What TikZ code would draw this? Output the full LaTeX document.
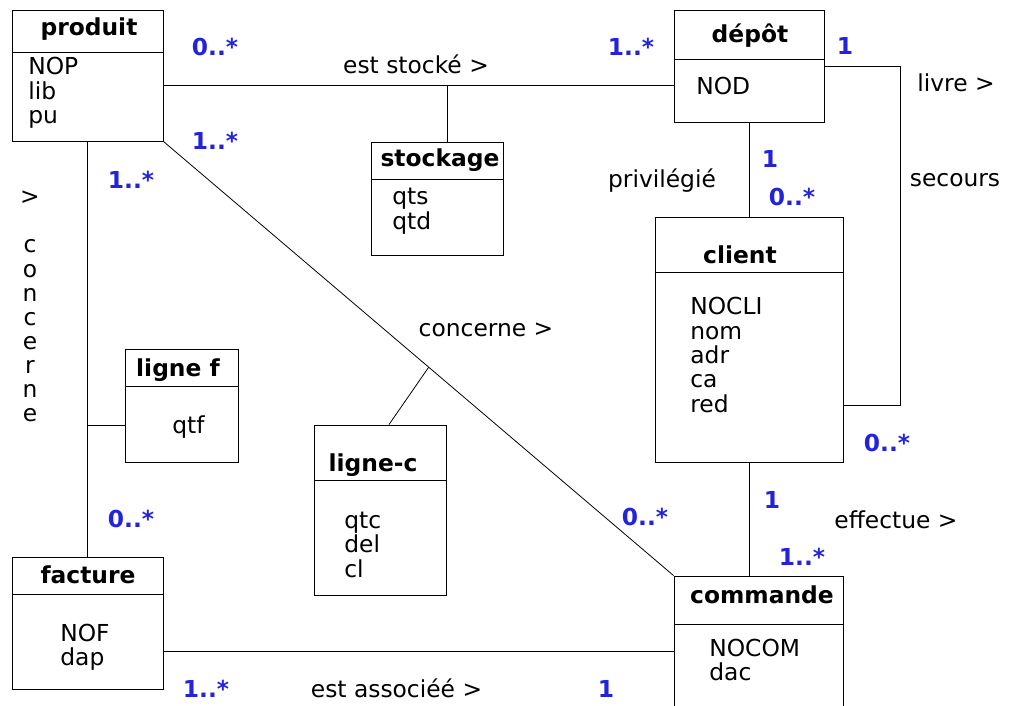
\documentclass[tikz,border=0pt]{standalone}
\usepackage{fontspec}
\setmainfont{DejaVu Sans}
\usetikzlibrary{calc}
\definecolor{bleu}{RGB}{35,35,220}
\tikzset{
  boite/.style={draw, line width=0.5pt, inner sep=0pt},
  titre/.style={font=\bfseries\fontsize{13.3}{14}\selectfont, anchor=base, inner sep=0pt},
  attr/.style={font=\fontsize{13.3}{14}\selectfont, anchor=base west, inner sep=0pt},
  lien/.style={font=\fontsize{13.3}{14}\selectfont, anchor=base, inner sep=0pt},
  card/.style={text=bleu, font=\bfseries\fontsize{13.3}{14}\selectfont, inner sep=0pt},
  trait/.style={line width=0.45pt}
}
\begin{document}
\begin{tikzpicture}[x=0.02cm, y=-0.02cm]
  \useasboundingbox (0,0) rectangle (1012,706);
  \clip (0,0) rectangle (1012,706);

  % Les classes
  \node[boite, minimum width=3.02cm, minimum height=2.62cm] (produit) at (87.5,75.5) {};
  \node[boite, minimum width=3.00cm, minimum height=2.24cm] (depot) at (749,66) {};
  \node[boite, minimum width=2.64cm, minimum height=2.26cm] (stockage) at (437,198.5) {};
  \node[boite, minimum width=3.76cm, minimum height=4.90cm] (client) at (749,339.5) {};
  \node[boite, minimum width=2.26cm, minimum height=2.26cm] (lignef) at (181.5,405.5) {};
  \node[boite, minimum width=2.64cm, minimum height=3.40cm] (lignec) at (380,510) {};
  \node[boite, minimum width=3.02cm, minimum height=2.64cm] (facture) at (87.5,623) {};
  \node[boite, minimum width=3.38cm, minimum height=3.08cm] (commande) at (758.5,653) {};

  % Separations titre / attributs
  \foreach \n/\d in {produit/43, depot/50, stockage/38, client/56,
                     lignef/38, lignec/56, facture/38, commande/49} {
    \draw[line width=0.5pt] ($(\n.north west)+(0,\d)$) -- ($(\n.north east)+(0,\d)$);
  }

  % Titres
  \node[titre] (produit-t) at (89,36) {produit};
  \node[titre] (depot-t) at (750,43) {dépôt};
  \node[titre] (stockage-t) at (440,167) {stockage};
  \node[titre] (client-t) at (740,263) {client};
  \node[titre] (lignef-t) at (178,377) {ligne f};
  \node[titre] (lignec-t) at (373,471) {ligne-c};
  \node[titre] (facture-t) at (88,583) {facture};
  \node[titre] (commande-t) at (762,603) {commande};

  % Attributs
  \foreach \t [count=\i from 0] in {NOP,lib,pu}
    \node[attr] (produit-\i) at (28,75+24.5*\i) {\t};
  \node[attr] (depot-0) at (696,95) {NOD};
  \foreach \t [count=\i from 0] in {qts,qtd}
    \node[attr] (stockage-\i) at (392,205+24.5*\i) {\t};
  \foreach \t [count=\i from 0] in {NOCLI,nom,adr,ca,red}
    \node[attr] (client-\i) at (690,315+24.3*\i) {\t};
  \node[attr] (lignef-0) at (172,433) {qtf};
  \foreach \t [count=\i from 0] in {qtc,del,cl}
    \node[attr] (lignec-\i) at (344,528+24.5*\i) {\t};
  \foreach \t [count=\i from 0] in {NOF,dap}
    \node[attr] (facture-\i) at (60,641+24*\i) {\t};
  \foreach \t [count=\i from 0] in {NOCOM,dac}
    \node[attr] (commande-\i) at (709,656+24*\i) {\t};

  % Associations
  \coordinate (stk) at (447,85);
  \draw[trait] (produit.east |- stk) -- (depot.west |- stk);
  \draw[trait] (stk) -- (stk |- stockage.north);

  \draw[trait] (produit.south east) -- (commande.north west);
  \coordinate (cnc) at ($(produit.south east)!0.52!(commande.north west)$);
  \draw[trait] (cnc) -- ($(lignec.north)+(9,0)$);

  \draw[trait] (produit.south) -- (facture.north);
  \coordinate (lfa) at ($(lignef.west)+(0,19.5)$);
  \draw[trait] (lfa) -- (lfa -| produit.south);

  \draw[trait] (depot.south) -- (depot.south |- client.north);
  \draw[trait] (depot.east) -- ++(76,0) |- ($(client.east)+(0,65.5)$);
  \draw[trait] (client.south) -- (client.south |- commande.north);

  \coordinate (fac) at ($(facture.east)+(0,28)$);
  \draw[trait] (fac) -- (fac -| commande.west);

  % Noms des associations
  \node[lien] (l-stocke) at (416,74) {est stocké >};
  \node[lien] (l-privi) at (662,188) {privilégié};
  \node[lien] (l-livre) at (956,92) {livre >};
  \node[lien] (l-secours) at (955,187) {secours};
  \node[lien] (l-concerne) at (486,337) {concerne >};
  \node[lien] (l-effectue) at (896,528) {effectue >};
  \node[lien] (l-associe) at (396.5,697) {est associéé >};
  \node[lien] (l-fleche) at (30,205) {>};
  \foreach \c [count=\i from 0] in {c,o,n,c,e,r,n,e}
    \node[lien] (l-conc-\i) at (30,253+24.1*\i) {\c};

  % Cardinalites
  \foreach \x/\y/\t [count=\i] in {
      215/47/{0..*}, 631/47/{1..*}, 845/46/1,
      215/141/{1..*}, 131/180/{1..*}, 770/159/1,
      792/197/{0..*}, 887/443/{0..*}, 131/519/{0..*},
      645/517/{0..*}, 772/500/1, 802/557/{1..*},
      206/689/{1..*}, 606/689/1} {
    \node[card] (card-\i) at (\x,\y) {\t};
  }
\end{tikzpicture}
\end{document}
